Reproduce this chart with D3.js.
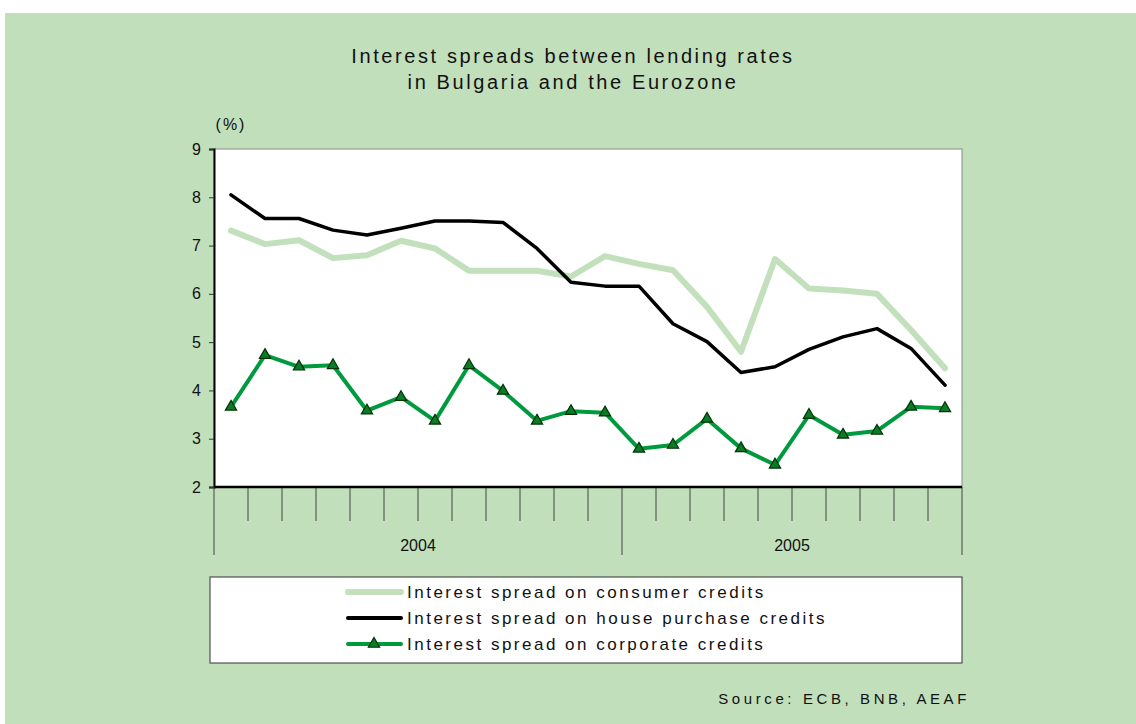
<!DOCTYPE html>
<html>
<head>
<meta charset="utf-8">
<script src="https://cdn.jsdelivr.net/npm/d3@7"></script>
<style>
  body { margin: 0; background: #fff; }
  text { font-family: "Liberation Sans", Arial, sans-serif; fill: #111; }
</style>
</head>
<body>
<div id="plot"></div>
<script>
// Monthly data, Jan 2004 - Oct 2005
var months = d3.range(22);
var years = [{label: "2004", start: 0, end: 12}, {label: "2005", start: 12, end: 22}];
var yTicks = [2, 3, 4, 5, 6, 7, 8, 9];

var consumer = [7.31, 7.03, 7.11, 6.74, 6.80, 7.10, 6.94, 6.48, 6.48, 6.48, 6.36,
                6.78, 6.62, 6.49, 5.73, 4.80, 6.72, 6.11, 6.07, 6.00, 5.25, 4.46];
var house = [8.05, 7.56, 7.56, 7.32, 7.22, 7.36, 7.51, 7.51, 7.48, 6.94, 6.24,
             6.16, 6.16, 5.38, 5.01, 4.37, 4.49, 4.85, 5.11, 5.28, 4.87, 4.11];
var corporate = [3.66, 4.73, 4.49, 4.52, 3.58, 3.86, 3.37, 4.52, 3.99, 3.37, 3.57,
                 3.54, 2.79, 2.87, 3.41, 2.80, 2.46, 3.49, 3.08, 3.16, 3.66, 3.63];

var seriesNames = ["Interest spread on consumer credits",
                   "Interest spread on house purchase credits",
                   "Interest spread on corporate credits"];

var W = 1136, H = 724;
var plot = {left: 214, right: 962, top: 149, bottom: 487};

var svg = d3.select("#plot").append("svg")
  .attr("width", W).attr("height", H);

// green panel
svg.append("rect")
  .attr("x", 5).attr("y", 13)
  .attr("width", W - 5).attr("height", H - 13)
  .attr("fill", "#c2dfbb");

// title
var title = svg.append("text")
  .attr("text-anchor", "middle")
  .style("font-size", "20px")
  .style("letter-spacing", "2.6px");
title.append("tspan").attr("x", 573).attr("y", 63).text("Interest spreads between lending rates");
title.append("tspan").attr("x", 573).attr("y", 89).text("in Bulgaria and the Eurozone");

// scales
var x = d3.scaleBand()
  .domain(months)
  .range([plot.left, plot.right]);
var y = d3.scaleLinear()
  .domain([2, 9])
  .range([plot.bottom, plot.top]);

// plot background
svg.append("rect")
  .attr("x", plot.left).attr("y", plot.top)
  .attr("width", plot.right - plot.left).attr("height", plot.bottom - plot.top)
  .attr("fill", "#fff")
  .attr("stroke", "#888").attr("stroke-width", 1);

// y axis
var yAxis = svg.append("g")
  .attr("transform", `translate(${plot.left},0)`)
  .call(d3.axisLeft(y).tickValues(yTicks).tickSize(5).tickPadding(8).tickFormat(d3.format("d")));
yAxis.select(".domain").attr("stroke", "#000").attr("stroke-width", 2);
yAxis.selectAll("line").attr("stroke", "#333");
yAxis.selectAll("text")
  .style("font-size", "16px")
  .style("font-family", "'Liberation Sans', Arial, sans-serif")
  .attr("fill", "#111");

svg.append("text")
  .attr("x", 231).attr("y", 130)
  .attr("text-anchor", "middle")
  .style("font-size", "16px")
  .style("letter-spacing", "2px")
  .text("(%)");

// x axis: month ticks below the plot
var xg = svg.append("g");
xg.selectAll(".mtick")
  .data(d3.range(23))
  .join("line")
  .attr("class", "mtick")
  .attr("x1", d => plot.left + d * x.step())
  .attr("x2", d => plot.left + d * x.step())
  .attr("y1", plot.bottom)
  .attr("y2", d => (d === 0 || d === 12 || d === 22) ? 555 : 521)
  .attr("stroke", "#444")
  .attr("stroke-width", 1);

xg.append("line")
  .attr("x1", plot.left).attr("x2", plot.right)
  .attr("y1", plot.bottom).attr("y2", plot.bottom)
  .attr("stroke", "#000").attr("stroke-width", 2.5);

xg.selectAll(".year")
  .data(years)
  .join("text")
  .attr("class", "year")
  .attr("x", d => (x(d.start) + x(d.end - 1) + x.bandwidth()) / 2)
  .attr("y", 551)
  .attr("text-anchor", "middle")
  .style("font-size", "16px")
  .text(d => d.label);

// lines
var line = d3.line()
  .x((d, i) => x(months[i]) + x.bandwidth() / 2)
  .y(d => y(d));

svg.append("path")
  .datum(consumer)
  .attr("fill", "none")
  .attr("stroke", "#c2e0bc")
  .attr("stroke-width", 6)
  .attr("stroke-linecap", "round")
  .attr("stroke-linejoin", "round")
  .attr("d", line);

svg.append("path")
  .datum(house)
  .attr("fill", "none")
  .attr("stroke", "#000")
  .attr("stroke-width", 3.5)
  .attr("stroke-linejoin", "round")
  .attr("stroke-linecap", "round")
  .attr("d", line);

svg.append("path")
  .datum(corporate)
  .attr("fill", "none")
  .attr("stroke", "#009a3e")
  .attr("stroke-width", 4)
  .attr("stroke-linejoin", "round")
  .attr("d", line);

var tri = d3.symbol().type(d3.symbolTriangle).size(55);
svg.selectAll(".tri")
  .data(corporate)
  .join("path")
  .attr("class", "tri")
  .attr("d", tri)
  .attr("transform", (d, i) => `translate(${x(months[i]) + x.bandwidth() / 2},${y(d)})`)
  .attr("fill", "#0b7a2a")
  .attr("stroke", "#003300")
  .attr("stroke-width", 1.2);

// legend
var lg = svg.append("g");
lg.append("rect")
  .attr("x", 210).attr("y", 577)
  .attr("width", 752).attr("height", 86)
  .attr("fill", "#fff")
  .attr("stroke", "#333").attr("stroke-width", 1);

var legendRows = [
  {name: seriesNames[0], color: "#c2e0bc", width: 6, marker: false},
  {name: seriesNames[1], color: "#000", width: 4, marker: false},
  {name: seriesNames[2], color: "#009a3e", width: 4, marker: true}
];

var rows = lg.selectAll(".lrow")
  .data(legendRows)
  .join("g")
  .attr("class", "lrow")
  .attr("transform", (d, i) => `translate(0,${592 + i * 26})`);

rows.append("line")
  .attr("x1", 348).attr("x2", 401)
  .attr("y1", 0).attr("y2", 0)
  .attr("stroke", d => d.color)
  .attr("stroke-width", d => d.width)
  .attr("stroke-linecap", "round");

rows.filter(d => d.marker).append("path")
  .attr("d", tri)
  .attr("transform", "translate(374,0)")
  .attr("fill", "#0b7a2a")
  .attr("stroke", "#003300")
  .attr("stroke-width", 1.2);

rows.append("text")
  .attr("x", 407).attr("y", 6)
  .style("font-size", "17px")
  .style("letter-spacing", "2.5px")
  .text(d => d.name);

// source
svg.append("text")
  .attr("x", 970).attr("y", 704)
  .attr("text-anchor", "end")
  .style("font-size", "15px")
  .style("letter-spacing", "3.6px")
  .text("Source: ECB, BNB, AEAF");
</script>
</body>
</html>
